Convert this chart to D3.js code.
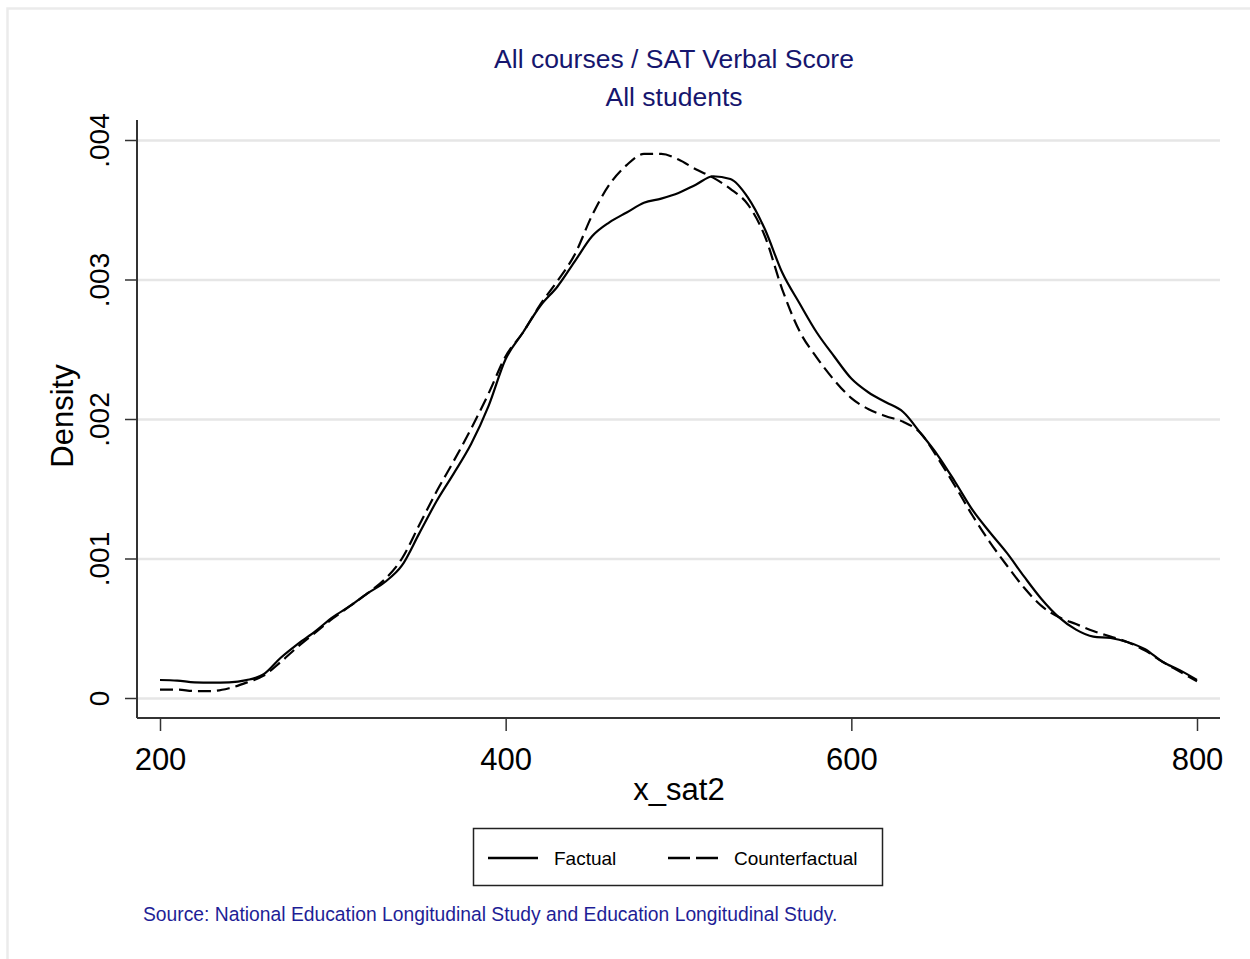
<!DOCTYPE html>
<html>
<head>
<meta charset="utf-8">
<script src="https://cdn.jsdelivr.net/npm/d3@7"></script>
<style>
  html, body { margin: 0; padding: 0; background: #ffffff; }
  svg { display: block; }
  text { font-family: "Liberation Sans", Arial, sans-serif; }
</style>
</head>
<body>
<svg id="chart" width="1250" height="959"></svg>
<script>
// ---- data ----
const titleLines = ["All courses / SAT Verbal Score", "All students"];
const xTickValues = [200, 400, 600, 800];
const yTickValues = [0, 0.001, 0.002, 0.003, 0.004];
const yTickLabels = ["0", ".001", ".002", ".003", ".004"];
const xLabel = "x_sat2";
const yLabel = "Density";
const seriesNames = ["Factual", "Counterfactual"];
const sourceNote = "Source: National Education Longitudinal Study and Education Longitudinal Study.";

const scores = [200,210,220,230,240,250,260,270,280,290,300,310,320,330,340,350,360,370,380,390,
  400,410,420,430,440,450,460,470,480,490,500,510,520,530,540,550,560,570,580,590,
  600,610,620,630,640,650,660,670,680,690,700,710,720,730,740,750,760,770,780,790,800];

const factual = [0.000129,0.000125,0.000112,0.000110,0.000112,0.000128,0.000170,0.000290,0.000390,0.000480,
  0.000580,0.000660,0.000750,0.000830,0.000950,0.001180,0.001410,0.001610,0.001820,0.002090,
  0.002430,0.002620,0.002810,0.002950,0.003130,0.003310,0.003410,0.003480,0.003550,0.003580,
  0.003620,0.003680,0.003740,0.003720,0.003590,0.003360,0.003050,0.002830,0.002620,0.002450,
  0.002290,0.002190,0.002120,0.002050,0.001900,0.001740,0.001550,0.001350,0.001190,0.001040,
  0.000870,0.000710,0.000580,0.000490,0.000440,0.000430,0.000400,0.000350,0.000260,0.000200,0.000130];

const counterfactual = [0.000060,0.000060,0.000050,0.000050,0.000070,0.000110,0.000160,0.000260,0.000370,0.000470,
  0.000570,0.000660,0.000750,0.000850,0.001000,0.001240,0.001480,0.001700,0.001930,0.002180,
  0.002450,0.002620,0.002820,0.002990,0.003180,0.003460,0.003680,0.003820,0.003900,0.003900,
  0.003860,0.003790,0.003730,0.003650,0.003540,0.003310,0.002930,0.002630,0.002440,0.002280,
  0.002150,0.002070,0.002020,0.001980,0.001900,0.001720,0.001520,0.001310,0.001120,0.000950,
  0.000790,0.000660,0.000580,0.000530,0.000480,0.000440,0.000400,0.000340,0.000260,0.000190,0.000120];

// ---- drawing ----
const svg = d3.select("#chart");
const titleColor = "#16166e";
const noteColor = "#1e1e96";

// outer graph region border
svg.append("rect").attr("x", 7.5).attr("y", 8.5).attr("width", 1260).attr("height", 1000)
  .attr("fill", "#ffffff").attr("stroke", "#ebebeb").attr("stroke-width", 2.5);

const x = d3.scaleLinear().domain([200, 800]).range([160, 1197]);
const y = d3.scaleLinear().domain([0, 0.004]).range([698, 140]);
const plotLeft = 137, plotRight = 1220, plotTop = 120, plotBottom = 718;

// gridlines
svg.append("g")
  .attr("transform", `translate(${plotLeft},0)`)
  .call(d3.axisLeft(y).tickValues(yTickValues).tickSize(-(plotRight - plotLeft)).tickFormat(""))
  .call(g => g.select(".domain").remove())
  .call(g => g.selectAll(".tick line").attr("stroke", "#e6e6e6").attr("stroke-width", 2.5));

// y axis
const yAxis = svg.append("g")
  .attr("transform", `translate(${plotLeft},0)`)
  .call(d3.axisLeft(y).tickValues(yTickValues).tickSize(12).tickFormat((d, i) => yTickLabels[i]));
yAxis.select(".domain").remove();
yAxis.selectAll(".tick line").attr("stroke", "#333").attr("stroke-width", 1.5);
yAxis.selectAll(".tick text")
  .attr("x", null).attr("dy", null)
  .attr("transform", "translate(-28,0) rotate(-90)")
  .attr("text-anchor", "middle")
  .attr("font-size", 28).attr("fill", "#000");

// x axis
const xAxis = svg.append("g")
  .attr("transform", `translate(0,${plotBottom})`)
  .call(d3.axisBottom(x).tickValues(xTickValues).tickSize(13).tickFormat(d3.format("d")));
xAxis.select(".domain").remove();
xAxis.selectAll(".tick line").attr("stroke", "#333").attr("stroke-width", 1.5);
xAxis.selectAll(".tick text").attr("y", 52).attr("dy", null)
  .attr("font-size", 31).attr("fill", "#000");

// axis lines
svg.append("line").attr("x1", plotLeft).attr("x2", plotLeft).attr("y1", plotTop).attr("y2", plotBottom)
  .attr("stroke", "#333").attr("stroke-width", 2);
svg.append("line").attr("x1", plotLeft).attr("x2", plotRight).attr("y1", plotBottom).attr("y2", plotBottom)
  .attr("stroke", "#333").attr("stroke-width", 2);

// curves
const line = d3.line().x((d, i) => x(scores[i])).y(d => y(d)).curve(d3.curveMonotoneX);
svg.append("path").datum(factual).attr("d", line)
  .attr("fill", "none").attr("stroke", "#000").attr("stroke-width", 2.2);
svg.append("path").datum(counterfactual).attr("d", line)
  .attr("fill", "none").attr("stroke", "#000").attr("stroke-width", 2.2)
  .attr("stroke-dasharray", "13,6");

// titles
svg.selectAll("text.title").data(titleLines).enter().append("text")
  .attr("class", "title")
  .attr("x", 674).attr("y", (d, i) => 68 + i * 38)
  .attr("text-anchor", "middle").attr("font-size", 26.5).attr("fill", titleColor)
  .text(d => d);

// axis titles
svg.append("text").attr("x", 679).attr("y", 800).attr("text-anchor", "middle")
  .attr("font-size", 31).attr("fill", "#000").text(xLabel);
svg.append("text").attr("transform", "translate(73,416) rotate(-90)").attr("text-anchor", "middle")
  .attr("font-size", 31).attr("fill", "#000").text(yLabel);

// legend
const lg = svg.append("g");
lg.append("rect").attr("x", 473.5).attr("y", 828.5).attr("width", 409).attr("height", 57)
  .attr("fill", "#fff").attr("stroke", "#222").attr("stroke-width", 1.5);
const legendItems = [
  { name: seriesNames[0], x0: 488, dash: null },
  { name: seriesNames[1], x0: 668, dash: "22,6" }
];
legendItems.forEach(it => {
  lg.append("line").attr("x1", it.x0).attr("x2", it.x0 + 50).attr("y1", 858).attr("y2", 858)
    .attr("stroke", "#000").attr("stroke-width", 2.5)
    .attr("stroke-dasharray", it.dash);
  lg.append("text").attr("x", it.x0 + 66).attr("y", 865)
    .attr("font-size", 19).attr("fill", "#000").text(it.name);
});

// source note
svg.append("text").attr("x", 143).attr("y", 921).attr("font-size", 19.3)
  .attr("fill", noteColor).text(sourceNote);
</script>
</body>
</html>
